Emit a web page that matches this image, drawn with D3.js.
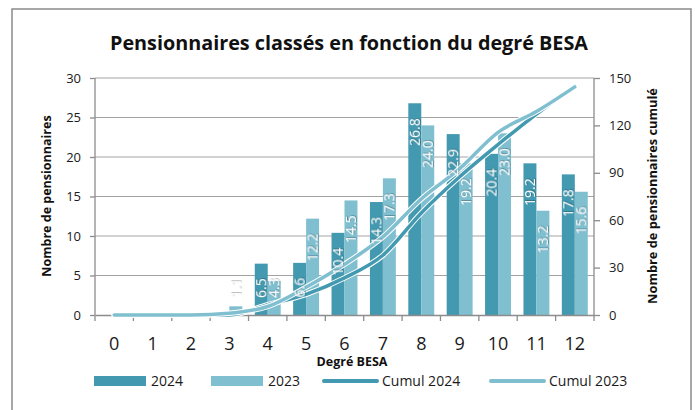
<!DOCTYPE html>
<html>
<head>
<meta charset="utf-8">
<script src="https://cdn.jsdelivr.net/npm/d3@7"></script>
<style>
  body { margin: 0; background: #fff; }
  svg { display: block; font-family: "Open Sans", sans-serif; }
</style>
</head>
<body>
<svg id="chart" width="695" height="410"></svg>
<script>
// data
const degres = ["0", "1", "2", "3", "4", "5", "6", "7", "8", "9", "10", "11", "12"];
const values2024 = [0, 0, 0, 0, 6.5, 6.6, 10.4, 14.3, 26.8, 22.9, 20.4, 19.2, 17.8];
const values2023 = [0, 0, 0, 1.1, 4.3, 12.2, 14.5, 17.3, 24.0, 19.2, 23.0, 13.2, 15.6];
const leftTicks = [0, 5, 10, 15, 20, 25, 30];
const rightTicks = [0, 30, 60, 90, 120, 150];

const cumul = arr => { let s = 0; return arr.map(v => (s += v)); };
const cumul2024 = cumul(values2024);
const cumul2023 = cumul(values2023);

const c2024 = "#4399b0", c2023 = "#80bfd0";
const axisCol = "#8c8c8c", gridCol = "#a3a3a3";

const svg = d3.select("#chart");

// drop shadow for value labels
const defs = svg.append("defs");
defs.append("filter").attr("id", "shadow")
  .attr("x", "-20%").attr("y", "-20%").attr("width", "140%").attr("height", "140%")
  .append("feDropShadow")
  .attr("dx", 0.6).attr("dy", 0.6).attr("stdDeviation", 0.5)
  .attr("flood-color", "#000").attr("flood-opacity", 0.45);

// outer frame
svg.append("rect")
  .attr("x", 12).attr("y", 9).attr("width", 679).attr("height", 420)
  .attr("fill", "none").attr("stroke", "#8a8a8a").attr("stroke-width", 1.5);

const pLeft = 95, pRight = 594, pTop = 78, pBottom = 315;

const x = d3.scaleBand().domain(degres).range([pLeft, pRight]);
const xs = d3.scaleBand().domain(["2024", "2023"]).range([0, x.bandwidth()]).paddingOuter(0.48);
const yL = d3.scaleLinear().domain([0, 30]).range([pBottom, pTop]);
const yR = d3.scaleLinear().domain([0, 150]).range([pBottom, pTop]);

// gridlines
svg.append("g").selectAll("line")
  .data(leftTicks.filter(d => d > 0))
  .enter().append("line")
  .attr("x1", pLeft).attr("x2", pRight)
  .attr("y1", d => yL(d)).attr("y2", d => yL(d))
  .attr("stroke", gridCol).attr("stroke-width", 1);

// bars
const series = [
  { key: "2024", values: values2024, color: c2024 },
  { key: "2023", values: values2023, color: c2023 }
];
const barData = [];
series.forEach(s => s.values.forEach((v, i) => barData.push({ key: s.key, cat: degres[i], v: v, color: s.color })));

svg.append("g").selectAll("rect")
  .data(barData.filter(d => d.v > 0))
  .enter().append("rect")
  .attr("x", d => x(d.cat) + xs(d.key))
  .attr("width", xs.bandwidth())
  .attr("y", d => yL(d.v))
  .attr("height", d => yL(0) - yL(d.v))
  .attr("fill", d => d.color);

// axes
const axL = svg.append("g").attr("transform", `translate(${pLeft},0)`)
  .call(d3.axisLeft(yL).tickValues(leftTicks).tickSize(5).tickPadding(9));
const axR = svg.append("g").attr("transform", `translate(${pRight},0)`)
  .call(d3.axisRight(yR).tickValues(rightTicks).tickSize(6).tickPadding(9));
const axX = svg.append("g").attr("transform", `translate(0,${pBottom})`)
  .call(d3.axisBottom(x).tickSize(0).tickPadding(22));

[axL, axR, axX].forEach(g => {
  g.select(".domain").attr("stroke", axisCol).attr("stroke-width", 1.3);
  g.selectAll(".tick line").attr("stroke", axisCol).attr("stroke-width", 1.3);
  g.selectAll("text").attr("fill", "#1a1a1a").attr("font-family", "Open Sans");
});
axL.selectAll("text").attr("font-size", 13);
axR.selectAll("text").attr("font-size", 13);
axX.selectAll("text").attr("font-size", 18);
axL.select(".domain").attr("d", `M0,${pTop}V${pBottom}`);
axR.select(".domain").attr("d", `M0,${pTop}V${pBottom}`);

// x ticks at band boundaries
svg.append("g").selectAll("line")
  .data(degres.map(d => x(d)).concat([pRight]))
  .enter().append("line")
  .attr("x1", d => d).attr("x2", d => d)
  .attr("y1", pBottom).attr("y2", pBottom + 6)
  .attr("stroke", axisCol).attr("stroke-width", 1.3);

// cumulative lines
const line = yScale => d3.line()
  .x((d, i) => x(degres[i]) + x.bandwidth() / 2)
  .y(d => yScale(d))
  .curve(d3.curveMonotoneX);

[{ vals: cumul2024, color: c2024 }, { vals: cumul2023, color: c2023 }].forEach(s => {
  svg.append("path").attr("d", line(yR)(s.vals))
    .attr("fill", "none").attr("stroke", "#fff").attr("stroke-width", 5.5)
    .attr("stroke-linejoin", "round").attr("stroke-linecap", "round");
  svg.append("path").attr("d", line(yR)(s.vals))
    .attr("fill", "none").attr("stroke", s.color).attr("stroke-width", 3.5)
    .attr("stroke-linejoin", "round").attr("stroke-linecap", "round");
});

// value labels (rotated, inside end)
const fmt = d3.format(".1f");
const labels = svg.append("g").selectAll("text")
  .data(barData.filter(d => d.v > 0))
  .enter().append("text")
  .attr("font-size", 14)
  .attr("fill", "#fff")
  .attr("filter", "url(#shadow)")
  .attr("text-anchor", "start")
  .text(d => fmt(d.v));
labels.each(function(d) {
  const len = this.getComputedTextLength();
  const cx = x(d.cat) + xs(d.key) + xs.bandwidth() / 2;
  const topEnd = yL(d.v) + 15;
  const bottomStart = Math.min(topEnd + len, pBottom - 17);
  d3.select(this)
    .attr("transform", `translate(${cx + 5},${bottomStart}) rotate(-90)`);
});

// titles
svg.append("text")
  .attr("x", 349).attr("y", 50)
  .attr("text-anchor", "middle")
  .attr("font-size", 19.8).attr("font-weight", "bold").attr("fill", "#111")
  .text("Pensionnaires classés en fonction du degré BESA");

svg.append("text")
  .attr("transform", "translate(51,196) rotate(-90)")
  .attr("text-anchor", "middle")
  .attr("font-size", 12.5).attr("font-weight", "bold").attr("fill", "#111")
  .text("Nombre de pensionnaires");

svg.append("text")
  .attr("transform", "translate(657,196) rotate(-90)")
  .attr("text-anchor", "middle")
  .attr("font-size", 12.8).attr("font-weight", "bold").attr("fill", "#111")
  .text("Nombre de pensionnaires cumulé");

svg.append("text")
  .attr("x", 352).attr("y", 366)
  .attr("text-anchor", "middle")
  .attr("font-size", 12.5).attr("font-weight", "bold").attr("fill", "#111")
  .text("Degré BESA");

// legend
const legendItems = [
  { label: "2024", color: c2024, type: "bar", x: 94, tx: 151 },
  { label: "2023", color: c2023, type: "bar", x: 211, tx: 268 },
  { label: "Cumul 2024", color: c2024, type: "line", x: 323, tx: 382 },
  { label: "Cumul 2023", color: c2023, type: "line", x: 490, tx: 549 }
];
const lg = svg.append("g").selectAll("g").data(legendItems).enter().append("g");
lg.filter(d => d.type === "bar").append("rect")
  .attr("x", d => d.x).attr("y", 376).attr("width", 52).attr("height", 10)
  .attr("fill", d => d.color);
lg.filter(d => d.type === "line").append("line")
  .attr("x1", d => d.x + 1).attr("x2", d => d.x + 54)
  .attr("y1", 381).attr("y2", 381)
  .attr("stroke", d => d.color).attr("stroke-width", 4).attr("stroke-linecap", "round");
lg.append("text")
  .attr("x", d => d.tx).attr("y", 386)
  .attr("font-size", 14).attr("fill", "#1a1a1a")
  .text(d => d.label);
</script>
</body>
</html>
